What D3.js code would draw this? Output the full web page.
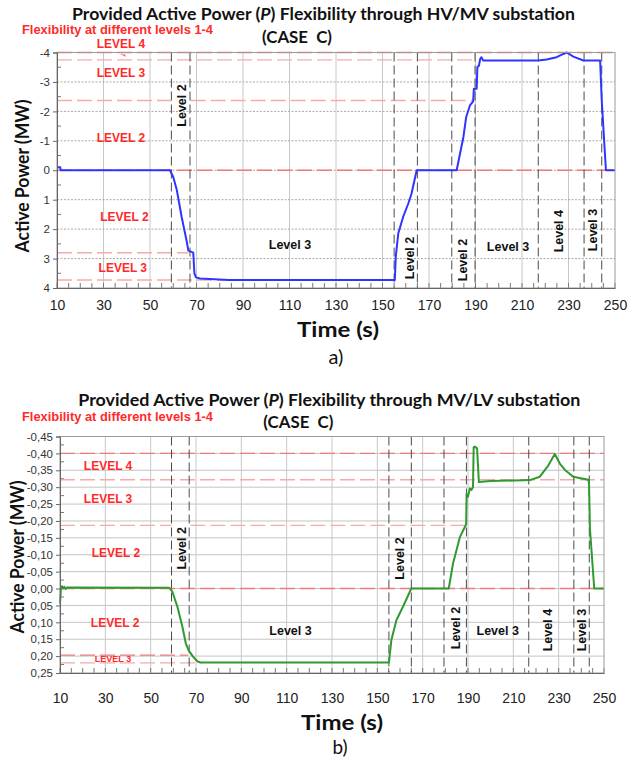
<!DOCTYPE html>
<html>
<head>
<meta charset="utf-8">
<script src="https://cdn.jsdelivr.net/npm/d3@7"></script>
<style>
  body { margin: 0; background: #fff; }
  svg { display: block; }
</style>
</head>
<body>
<svg id="chart" width="629" height="758"></svg>
<script>
// ---- data ----------------------------------------------------------------
const timeTicks = [10, 30, 50, 70, 90, 110, 130, 150, 170, 190, 210, 230, 250];
const hvTicks = [-4, -3, -2, -1, 0, 1, 2, 3, 4];
const lvTicks = [-0.45, -0.40, -0.35, -0.30, -0.25, -0.20, -0.15, -0.10, -0.05, 0, 0.05, 0.10, 0.15, 0.20, 0.25];

// HV/MV substation active power [time s, MW]
const hvPower = [
  [10, -0.1], [11.4, -0.1], [11.6, 0], [58.6, 0], [60, 0.23], [61.5, 0.66], [63.6, 1.58],
  [65.8, 2.42], [66.5, 2.73], [68.6, 2.8], [69.1, 3.5], [69.8, 3.64], [71.5, 3.68], [84, 3.73],
  [155.3, 3.73], [155.7, 2.94], [156.8, 2.14], [158.9, 1.58], [161.1, 1.13], [162.5, 0.79],
  [164.7, 0], [181.9, 0], [184.8, -1.13], [186, -1.81], [187.6, -2.2], [189, -2.34],
  [189.3, -2.77], [190.5, -2.77], [190.8, -3.5], [191.5, -3.56], [192, -3.78], [192.5, -3.84],
  [193.3, -3.73], [217, -3.73], [220.6, -3.76], [224.9, -3.84], [227.8, -3.95], [229.2, -4.0],
  [232.1, -3.86], [236.4, -3.73], [243.6, -3.73], [244.3, -2.37], [246.1, 0], [250, 0]
];

// MV/LV substation active power [time s, MW]
const lvPower = [
  [10, 0.045], [10.4, 0.0], [10.9, -0.007], [11.4, 0.0], [11.9, -0.005], [12.5, 0.001],
  [13, -0.003], [58.2, -0.002], [59.5, 0.008], [61.8, 0.054], [64, 0.113], [65.5, 0.162],
  [66.7, 0.182], [68.5, 0.2], [70.7, 0.216], [72, 0.219], [155.1, 0.219], [156.2, 0.152],
  [158.4, 0.094], [161.3, 0.054], [165, 0], [181.5, 0], [183.4, -0.074], [186.4, -0.152],
  [188.6, -0.182], [189.2, -0.19], [189.4, -0.28], [190, -0.272], [190.8, -0.296],
  [191.5, -0.292], [192.2, -0.3], [192.5, -0.418], [193, -0.42], [194, -0.415],
  [194.8, -0.315], [200, -0.318], [217.3, -0.321], [221.7, -0.331], [225.4, -0.364],
  [228.3, -0.398], [230.5, -0.37], [232.8, -0.351], [236.4, -0.331], [243.1, -0.322],
  [243.4, -0.31], [243.8, -0.177], [245.7, 0], [250, 0]
];

// flexibility level boundaries: value, time span, tone
const hvLevelLines = [
  { value: -4, from: 10, to: 250, tone: "strong" },
  { value: -3.75, from: 10, to: 190.6, tone: "light" },
  { value: -2.37, from: 10, to: 59.2, tone: "light" },
  { value: -2.37, from: 67.5, to: 188.8, tone: "light" },
  { value: 0, from: 10, to: 250, tone: "strong" },
  { value: 2.8, from: 10, to: 66.5, tone: "light" },
  { value: 3.73, from: 10, to: 84, tone: "light" }
];
const lvLevelLines = [
  { value: -0.40, from: 10, to: 250, tone: "strong" },
  { value: -0.322, from: 10, to: 250, tone: "light" },
  { value: -0.187, from: 10, to: 59.2, tone: "light" },
  { value: -0.187, from: 67.5, to: 188.6, tone: "light" },
  { value: 0, from: 10, to: 250, tone: "strong" },
  { value: 0.197, from: 10, to: 66.5, tone: "strong" },
  { value: 0.22, from: 10, to: 72, tone: "light" }
];

// time instants separating the flexibility stages
const hvDividers = [59.2, 67.2, 155, 165, 179.8, 189.8, 217, 236.7, 244.3];
const lvDividers = [59.2, 67, 155.1, 165, 179.4, 189.3, 216.8, 236.7, 243.5];

// red level names (time, value)
const hvLevelTags = [
  { text: "LEVEL 3", t: 37.5, v: -3.29 },
  { text: "LEVEL 2", t: 37.5, v: -1.08 },
  { text: "LEVEL 2", t: 39, v: 1.6 },
  { text: "LEVEL 3", t: 38.3, v: 3.32 }
];
const lvLevelTags = [
  { text: "LEVEL 4", t: 31.2, v: -0.364, small: false },
  { text: "LEVEL 3", t: 31.2, v: -0.266, small: false },
  { text: "LEVEL 2", t: 34.7, v: -0.104, small: false },
  { text: "LEVEL 2", t: 34.3, v: 0.101, small: false },
  { text: "LEVEL 3", t: 33.4, v: 0.209, small: true }
];

// black stage names (time, value, vertical?)
const hvStageTags = [
  { text: "Level 2", t: 63.8, v: -2.2, vertical: true },
  { text: "Level 3", t: 110.2, v: 2.54, vertical: false },
  { text: "Level 2", t: 161.8, v: 2.98, vertical: true },
  { text: "Level 2", t: 184.6, v: 3.05, vertical: true },
  { text: "Level 3", t: 204, v: 2.61, vertical: false },
  { text: "Level 4", t: 225.9, v: 2.07, vertical: true },
  { text: "Level 3", t: 240.5, v: 2.03, vertical: true }
];
const lvStageTags = [
  { text: "Level 2", t: 63.7, v: -0.119, vertical: true },
  { text: "Level 3", t: 111.7, v: 0.125, vertical: false },
  { text: "Level 2", t: 160, v: -0.089, vertical: true },
  { text: "Level 2", t: 184.7, v: 0.117, vertical: true },
  { text: "Level 3", t: 203.1, v: 0.125, vertical: false },
  { text: "Level 4", t: 225.3, v: 0.123, vertical: true },
  { text: "Level 3", t: 240.2, v: 0.123, vertical: true }
];

// ---- drawing ---------------------------------------------------------------
const svg = d3.select("#chart");
const HUMANIST = "Lato, 'Open Sans', sans-serif";
const ARIAL = "'Liberation Sans', Arial, sans-serif";
const RED_TEXT = "#ff2a2a";

// squeeze a text run to a given advance width (narrow humanist look)
function squeeze(sel, width) {
  sel.attr("textLength", width).attr("lengthAdjust", "spacingAndGlyphs");
}

function drawPanel(cfg) {
  const g = svg.append("g");
  const x = d3.scaleLinear().domain([10, 250]).range([cfg.left, cfg.right]);
  const y = d3.scaleLinear().domain([cfg.ticks[0], cfg.ticks[cfg.ticks.length - 1]])
    .range([cfg.top, cfg.bottom]);

  // grid
  g.append("g").selectAll("line").data(timeTicks.slice(1, -1)).join("line")
    .attr("x1", d => x(d)).attr("x2", d => x(d))
    .attr("y1", cfg.top).attr("y2", cfg.bottom)
    .attr("stroke", "#c8c8c8").attr("stroke-width", 1);
  g.append("g").selectAll("line").data(cfg.ticks.slice(1, -1)).join("line")
    .attr("x1", cfg.left).attr("x2", cfg.right)
    .attr("y1", d => y(d)).attr("y2", d => y(d))
    .attr("stroke", cfg.gridColor).attr("stroke-width", 1)
    .attr("stroke-dasharray", cfg.gridDash);

  // minor ticks
  g.append("g").selectAll("line").data(d3.range(10, 251, 5)).join("line")
    .attr("x1", d => x(d)).attr("x2", d => x(d))
    .attr("y1", cfg.bottom).attr("y2", cfg.bottom - 5)
    .attr("stroke", "#777");
  const mids = d3.pairs(cfg.ticks).map(p => (p[0] + p[1]) / 2);
  g.append("g").selectAll("line").data(mids).join("line")
    .attr("x1", cfg.left).attr("x2", cfg.left + 4)
    .attr("y1", d => y(d)).attr("y2", d => y(d))
    .attr("stroke", "#777");

  // level boundaries
  g.append("g").selectAll("line").data(cfg.levels).join("line")
    .attr("x1", d => x(d.from)).attr("x2", d => x(d.to))
    .attr("y1", d => y(d.value)).attr("y2", d => y(d.value))
    .attr("stroke", d => d.tone === "strong" ? "#f27a7a" : "#f6aaaa")
    .attr("stroke-width", 1.4)
    .attr("stroke-dasharray", "15,5");

  // stage dividers
  g.append("g").selectAll("line").data(cfg.dividers).join("line")
    .attr("x1", d => x(d)).attr("x2", d => x(d))
    .attr("y1", cfg.top).attr("y2", cfg.bottom)
    .attr("stroke", "#4a4a4a").attr("stroke-width", 1)
    .attr("stroke-dasharray", "9,4");

  // power curve
  g.append("path").datum(cfg.series)
    .attr("d", d3.line().x(d => x(d[0])).y(d => y(d[1])))
    .attr("fill", "none").attr("stroke", cfg.color)
    .attr("stroke-width", 2).attr("stroke-linejoin", "round");

  // frame
  g.append("rect")
    .attr("x", cfg.left).attr("y", cfg.top)
    .attr("width", cfg.right - cfg.left).attr("height", cfg.bottom - cfg.top)
    .attr("fill", "none").attr("stroke", "#9a9a9a");

  // y axis
  const ya = g.append("g").attr("transform", `translate(${cfg.left},0)`)
    .call(d3.axisLeft(y).tickValues(cfg.ticks).tickSize(4).tickPadding(3).tickFormat(cfg.fmt));
  ya.select(".domain").attr("stroke", "#666");
  ya.selectAll(".tick line").attr("stroke", "#666");
  ya.selectAll("text").attr("font-family", ARIAL).attr("font-size", 11.5).attr("fill", "#333");

  // x axis labels
  const xa = g.append("g").attr("transform", `translate(0,${cfg.bottom})`)
    .call(d3.axisBottom(x).tickValues(timeTicks).tickSize(0).tickPadding(cfg.xPad));
  xa.select(".domain").attr("stroke", "#666");
  xa.selectAll("text").attr("font-family", ARIAL).attr("font-size", 14).attr("fill", "#222");

  // red level names
  g.append("g").selectAll("text").data(cfg.levelTags).join("text")
    .attr("x", d => x(d.t)).attr("y", d => y(d.v))
    .attr("text-anchor", "middle").attr("dominant-baseline", "central")
    .attr("font-family", ARIAL).attr("font-weight", "bold")
    .attr("font-size", d => d.small ? 9 : 12).attr("fill", RED_TEXT)
    .text(d => d.text);

  // stage names
  g.append("g").selectAll("text").data(cfg.stageTags).join("text")
    .attr("transform", d => `translate(${x(d.t)},${y(d.v)})` + (d.vertical ? " rotate(-90)" : ""))
    .attr("text-anchor", "middle").attr("dominant-baseline", "central")
    .attr("font-family", ARIAL).attr("font-weight", "bold")
    .attr("font-size", 12.5).attr("fill", "#111")
    .text(d => d.text);

  // titles
  const title = svg.append("text")
    .attr("x", cfg.titleX).attr("y", cfg.titleY)
    .attr("font-family", HUMANIST).attr("font-weight", "bold").attr("font-size", 17.5)
    .attr("fill", "#111");
  title.append("tspan").text("Provided Active Power (");
  title.append("tspan").attr("font-style", "italic").text("P");
  title.append("tspan").text(") Flexibility through " + cfg.station + " substation");
  squeeze(title, cfg.titleW);

  const caseT = svg.append("text")
    .attr("x", cfg.caseX).attr("y", cfg.caseY)
    .attr("font-family", HUMANIST).attr("font-weight", "bold").attr("font-size", 17.5)
    .attr("fill", "#111").style("white-space", "pre").text("(CASE  C)");
  squeeze(caseT, 70);

  const flex = svg.append("text")
    .attr("x", 22).attr("y", cfg.flexY)
    .attr("font-family", ARIAL).attr("font-weight", "bold").attr("font-size", 12)
    .attr("fill", RED_TEXT).text("Flexibility at different levels 1-4");
  squeeze(flex, 191);

  const yt = svg.append("text")
    .attr("transform", `translate(${cfg.yTitleX},${cfg.yTitleY}) rotate(-90)`)
    .attr("text-anchor", "middle").attr("dominant-baseline", "central")
    .attr("font-family", HUMANIST).attr("font-weight", "bold").attr("font-size", 18)
    .attr("fill", "#111").text("Active Power (MW)");
  squeeze(yt, 153);

  const xt = svg.append("text")
    .attr("x", cfg.xTitleX).attr("y", cfg.xTitleY)
    .attr("text-anchor", "middle")
    .attr("font-family", HUMANIST).attr("font-weight", "bold").attr("font-size", 20)
    .attr("fill", "#111").text("Time (s)");
  squeeze(xt, 82);

  svg.append("text")
    .attr("x", cfg.xTitleX - 2).attr("y", cfg.panelY)
    .attr("text-anchor", "middle")
    .attr("font-family", HUMANIST).attr("font-size", cfg.panelSize)
    .attr("fill", "#111").text(cfg.panel);

  return { x, y, g };
}

const fmtHV = d => String(d);
const fmtLV = d => d.toFixed(2).replace(".", ",");

const hv = drawPanel({
  left: 57, right: 615, top: 52.5, bottom: 288,
  ticks: hvTicks, fmt: fmtHV, series: hvPower, color: "#2f34ff",
  levels: hvLevelLines, dividers: hvDividers,
  levelTags: hvLevelTags, stageTags: hvStageTags,
  gridColor: "#a8a8a8", gridDash: "2,1.5", xPad: 12,
  station: "HV/MV", titleX: 72, titleY: 20, titleW: 503,
  caseX: 262, caseY: 43.3, flexY: 34,
  yTitleX: 22, yTitleY: 176, xTitleX: 338, xTitleY: 336.5,
  panel: "a)", panelY: 364, panelSize: 20
});

// LEVEL 4 name sits above the frame with a pointer to its band
const lvl4 = hv.g.append("g");
lvl4.append("text")
  .attr("x", hv.x(37.5)).attr("y", hv.y(-4) - 5)
  .attr("text-anchor", "middle")
  .attr("font-family", ARIAL).attr("font-weight", "bold").attr("font-size", 12)
  .attr("fill", RED_TEXT).text("LEVEL 4");
lvl4.append("path")
  .attr("d", `M${hv.x(37.5)},${hv.y(-4) + 1.5} L${hv.x(39.6)},${hv.y(-3.87)}`)
  .attr("stroke", "#f27a7a").attr("stroke-width", 1);
lvl4.append("path")
  .attr("d", `M${hv.x(39.6)},${hv.y(-3.87)} l-3,-0.5 l1.6,-2.2 z`)
  .attr("fill", "#f27a7a");

drawPanel({
  left: 60, right: 604, top: 436.5, bottom: 673,
  ticks: lvTicks, fmt: fmtLV, series: lvPower, color: "#2f9a2f",
  levels: lvLevelLines, dividers: lvDividers,
  levelTags: lvLevelTags, stageTags: lvStageTags,
  gridColor: "#c4c4c4", gridDash: null, xPad: 20,
  station: "MV/LV", titleX: 78.3, titleY: 405.7, titleW: 502,
  caseX: 263.3, caseY: 428.3, flexY: 421,
  yTitleX: 17, yTitleY: 557, xTitleX: 342, xTitleY: 729.5,
  panel: "b)", panelY: 754, panelSize: 19
});
</script>
</body>
</html>
